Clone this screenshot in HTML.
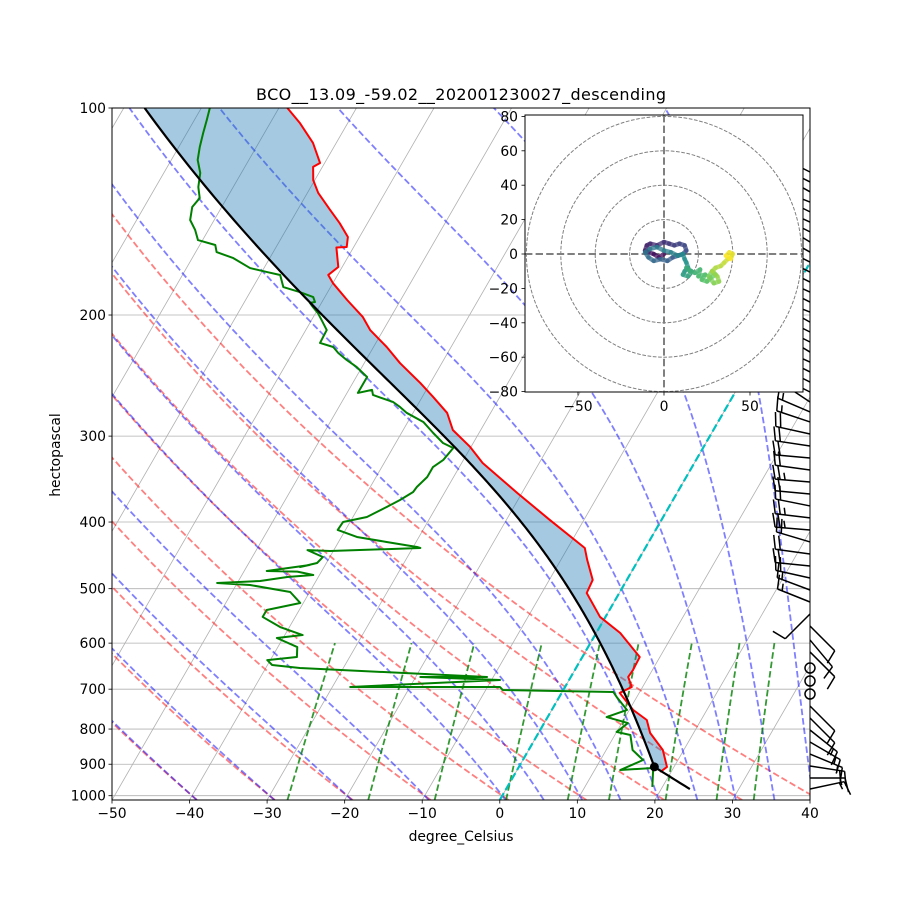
<!DOCTYPE html>
<html><head><meta charset="utf-8"><title>Skew-T</title>
<style>
html,body{margin:0;padding:0;background:#fff;}
svg{display:block;font-family:"DejaVu Sans","Liberation Sans",sans-serif;}
</style></head>
<body>
<svg id="chart" width="900" height="900" viewBox="0 0 900 900" xmlns="http://www.w3.org/2000/svg">
<defs>
<clipPath id="axclip"><rect x="112" y="108" width="698" height="692"/></clipPath>
<clipPath id="hodoclip"><rect x="525" y="115" width="278" height="277"/></clipPath>
</defs>
<rect width="900" height="900" fill="#fff"/>
<g id="grid" clip-path="url(#axclip)"></g>
<g id="series" clip-path="url(#axclip)"></g>
<g id="barbs"></g>
<rect x="112" y="108" width="698" height="692" fill="none" stroke="#000" stroke-width="1"/>
<g id="axes"></g>
<text x="461" y="100" text-anchor="middle" font-size="16" textLength="410">BCO__13.09_-59.02__202001230027_descending</text>
<text x="461" y="841" text-anchor="middle" font-size="13.9">degree_Celsius</text>
<text x="0" y="0" transform="translate(60,455) rotate(-90)" text-anchor="middle" font-size="13.9">hectopascal</text>
<g id="hodo"></g>
</svg>
<script>
// ---- data ----
const tempP = [100,105.1,112.4,120.2,121.8,127.3,132.9,140.7,147.0,154.0,159.3,159.5,170.3,174.9,179.7,190.2,201.4,210.3,222.6,234.9,251.1,263.1,277.6,293.9,311.1,328.2,362.9,397.2,436.3,454.1,485.6,507.3,549.6,580.0,628.6,656.5,672.0,694.9,708.9,750.5,776.1,810.6,858.1,908.3,923.7];
const tempT = [-78.9,-76.2,-73.0,-70.6,-71.2,-70.2,-68.6,-65.8,-63.6,-61.5,-60.9,-62.2,-60.5,-61.2,-60.0,-56.9,-53.6,-51.7,-48.3,-45.4,-41.3,-38.6,-35.6,-33.6,-30.1,-27.3,-20.6,-14.4,-7.8,-6.6,-4.4,-4.2,-0.7,3.1,7.4,7.5,7.4,8.6,7.5,10.5,13.0,14.4,17.3,19.1,18.6];
const dewP = [100,104.1,108.7,113.9,119.0,124.3,130.3,135.2,139.3,145.5,150.5,155.6,158.2,162.0,165.3,170.9,173.2,174.9,182.1,185.2,188.3,191.5,192,194.7,198.7,203.4,210.3,219.6,222.6,227.1,232.5,238.0,246.1,259.6,257.0,261.4,267.6,272.2,277.6,286.1,296.9,307.0,312.2,324.9,332.7,344.0,355.7,361.7,371.5,380.3,386.8,393.3,399.9,410.8,420.5,427.6,434.9,436.3,440.8,439.4,449.7,458.8,465.0,461.8,471.2,472.3,477.6,480.8,487.3,490.6,493.9,505.6,524.5,537.0,549.6,568.5,583.9,589.8,607.9,628.6,635.0,645.6,652.1,672.0,672.0,678.8,694.9,694.9,701.9,706.6,718.5,750.5,768.5,784.1,807.8,816.0,858.1,887.4,917.5,911.4,971.2];
const dewT = [-88.9,-88.4,-87.9,-87.3,-86.6,-85.3,-84.5,-83.5,-83.8,-83.1,-81.7,-80.6,-78.0,-77.3,-74.7,-71.8,-69.3,-67.4,-66.1,-63.6,-61.5,-60.9,-61.5,-60.8,-59.7,-58.7,-57.3,-57.2,-55.2,-54.1,-52.5,-50.7,-48.6,-48.6,-47.0,-46.5,-43.4,-42.1,-40.8,-38.0,-35.9,-33.9,-32.2,-32.6,-33.4,-33.4,-34.0,-34.1,-35.2,-36.4,-37.3,-38.2,-40.9,-41.0,-38.0,-33.8,-29.5,-29.0,-40.4,-43.4,-40.9,-41.2,-43.1,-42.0,-47.1,-43.1,-40.8,-44.0,-47.2,-52.6,-48.2,-42.5,-40.4,-44.2,-44.2,-41.2,-37.7,-40.8,-37.5,-36.8,-40.4,-39.4,-35.6,-10.8,-19.4,-8.9,-27.7,-8.4,-7.8,6.6,7.4,9.7,7.6,10.8,10.0,12.0,13.4,15.5,13.3,17.4,18.7];
const parcelSurfP = 978;
const parcelSurfT = 23.7;
const parcelLclP = 908;
const dryT0 = [-40,-30,-20,-10,0,10,20,30,40];
const moistT0 = [-40,-30,-20,-10,0,5,10,15,20,25,30,35,40];
const mixW = [0.0004,0.001,0.002,0.004,0.007,0.01,0.016,0.024,0.032];
const xTicks = [-50,-40,-30,-20,-10,0,10,20,30,40];
const yTicks = [100,200,300,400,500,600,700,800,900,1000];
const barbP = [123.9,128.1,132.4,137.0,141.6,146.5,151.4,156.6,162.0,167.5,173.2,179.1,185.2,191.5,198.0,204.8,211.7,218.9,226.4,234.1,242.0,250.3,258.8,267.6,276.7,286.1,297.9,310.1,322.8,336.0,349.8,364.1,379.0,394.5,410.8,427.6,445.2,463.4,482.4,502.2,522.8,544.2,566.6,593.6,618.0,652.1,681.1,711.4,740.6,770.9,802.5,835.4,869.7,905.3,942.5,977.9];
const barbU = [10,10,9,10,10,11,10,10,9,10,10,10,11,10,10,9,10,10,10,11,10,10,12,12,14,15,18,20,22,22,24,22,20,25,24,20,22,20,18,16,15,8,-6,-5,-6,0,0,0,-6,-8,-10,-12,-12,-13,-14,-14];
const barbV = [-5,-5,-5,-4,-5,-5,-5,-6,-5,-5,-5,-5,-5,-5,-4,-5,-5,-5,-6,-5,-5,-5,-6,-8,-6,-5,-4,-3,-2,-3,-2,-2,-4,-3,-2,-6,-3,-2,-4,-6,-6,8,6,6,6,0,0,0,6,8,8,7,5,2,0,-3];
const hodoU = [0,-3,-6,-9,-11,-10,-8,-4,0,3,6,9,12,13,11,8,5,2,-2,-6,-9,-11,-8,-4,0,4,8,11,12,13,14,12,11,14,16,13,15,18,21,20,24,22,25,27,30,28,26,29,32,31,28,30,33,35,37,39,40,38,36,39];
const hodoV = [0,-2,0,1,2,5,6,5,7,6,5,6,5,2,0,-1,-2,-4,-3,-4,-2,1,3,4,2,1,-1,0,-3,-5,-8,-10,-12,-13,-10,-8,-10,-11,-9,-13,-12,-15,-16,-14,-12,-10,-13,-17,-16,-13,-10,-8,-7,-5,-3,-2,0,1,-1,-3];
const hodoTicksY = [-80,-60,-40,-20,0,20,40,60,80];
const hodoTicksX = [-50,0,50];
const hodoRings = [20,40,60,80];

// ---- scales ----
const NS='http://www.w3.org/2000/svg';
const X0=112, X1=810, Y0=108, Y1=800, PXC=698/90, PXDEC=692/Math.log10(1014.5/100), SKEW=Math.tan(Math.PI/6);
const PBOT=1014.5;
function yP(p){return Y0+PXDEC*Math.log10(p/100);}
function xT(T,p){return X0+(T+50)*PXC+(Y1-yP(p))*SKEW;}
function mk(tag,attrs,parent){const e=document.createElementNS(NS,tag);for(const k in attrs)e.setAttribute(k,attrs[k]);parent.appendChild(e);return e;}
function pts(arr){return arr.map(a=>a[0].toFixed(2)+','+a[1].toFixed(2)).join(' ');}
const grid=document.getElementById('grid'), series=document.getElementById('series'), axes=document.getElementById('axes'), barbs=document.getElementById('barbs'), hodo=document.getElementById('hodo');

// ---- thermo ----
const Rd=287.04,Cp=1005.7,Lv=2.501e6,eps=0.622;
function es(Tk){const c=Tk-273.15;return 6.112*Math.exp(17.67*c/(c+243.5));}
function dTdp(p,T){const e=es(T);const rs=eps*e/(p-e);return (Rd*T+Lv*rs)/(Cp+Lv*Lv*rs*eps/(Rd*T*T))/p;}
function moistPath(Tc,p0,p1,n){const out=[[p0,Tc]];let T=Tc+273.15,p=p0;const h=(p1-p0)/n;
 for(let i=0;i<n;i++){const k1=dTdp(p,T),k2=dTdp(p+h/2,T+h/2*k1),k3=dTdp(p+h/2,T+h/2*k2),k4=dTdp(p+h,T+h*k3);T+=h/6*(k1+2*k2+2*k3+k4);p+=h;out.push([p,T-273.15]);}return out;}

// ---- grid ----
for(let T=-160;T<=40;T+=10){
 const l=mk('line',{x1:xT(T,PBOT),y1:Y1,x2:xT(T,100),y2:Y0,stroke:'#b0b0b0','stroke-width':0.8},grid);
 
 
}
yTicks.forEach(p=>{const l=mk('line',{x1:X0,x2:X1,y1:yP(p),y2:yP(p),stroke:'#b0b0b0','stroke-width':0.8},grid);
 
 });
dryT0.forEach(t0=>{const a=[];for(let p=PBOT;p>=99;p-=10){a.push([xT((t0+273.15)*Math.pow(p/1000,0.2857)-273.15,p),yP(p)]);}
 const l=mk('polyline',{points:pts(a),fill:'none',stroke:'rgba(255,0,0,0.5)','stroke-width':1.8,'stroke-dasharray':'6.5 3'},grid);
 
 });
moistT0.forEach(t0=>{const up=moistPath(t0,1000,100,180),dn=moistPath(t0,1000,PBOT,4);
 const a=dn.reverse().concat(up.slice(1)).map(q=>[xT(q[1],q[0]),yP(q[0])]);
 const l=mk('polyline',{points:pts(a),fill:'none',stroke:'rgba(0,0,255,0.5)','stroke-width':1.8,'stroke-dasharray':'6.5 3'},grid);
 
 });
mixW.forEach(w=>{const a=[];for(let p=PBOT;p>=600;p-=20){const e=p*w/(eps+w),lg=Math.log(e/6.112);const td=243.5*lg/(17.67-lg);a.push([xT(td,p),yP(p)]);}
 const p=600,e=p*w/(eps+w),lg=Math.log(e/6.112);a.push([xT(243.5*lg/(17.67-lg),p),yP(p)]);
 const l=mk('polyline',{points:pts(a),fill:'none',stroke:'rgba(0,128,0,0.8)','stroke-width':1.8,'stroke-dasharray':'6.5 3'},grid);
 
 });

// ---- parcel ----
const lclT=(parcelSurfT+273.15)*Math.pow(parcelLclP/parcelSurfP,0.2857)-273.15;
const moistPar=moistPath(lclT,parcelLclP,100,300);
function parcelT(p){if(p>=parcelLclP)return (parcelSurfT+273.15)*Math.pow(p/parcelSurfP,0.2857)-273.15;
 for(let i=1;i<moistPar.length;i++){const a=moistPar[i-1],b=moistPar[i];if(p<=a[0]&&p>=b[0]){const f=(p-a[0])/(b[0]-a[0]);return a[1]+f*(b[1]-a[1]);}}return moistPar[moistPar.length-1][1];}

{const top=[],bot=[];tempP.forEach((p,i)=>{top.push([xT(tempT[i],p),yP(p)]);bot.push([xT(Math.min(tempT[i],parcelT(p)),p),yP(p)]);});
 const f=mk('polygon',{points:pts(top.concat(bot.reverse())),fill:'rgba(31,119,180,0.4)',stroke:'none'},series);
 
 }
{const l=mk('line',{x1:xT(0,PBOT),y1:Y1,x2:xT(0,100),y2:Y0,stroke:'#00bfbf','stroke-width':2.2,'stroke-dasharray':'8 3.5'},series);
 
 }
{const l=mk('polyline',{points:pts(tempP.map((p,i)=>[xT(tempT[i],p),yP(p)])),fill:'none',stroke:'#ff0000','stroke-width':2,'stroke-linejoin':'round'},series);
 
 }
{const l=mk('polyline',{points:pts(dewP.map((p,i)=>[xT(dewT[i],p),yP(p)])),fill:'none',stroke:'#008000','stroke-width':2,'stroke-linejoin':'round'},series);
 
 }
{const a=[];for(let p=parcelSurfP;p>parcelLclP;p-=5)a.push([xT(parcelT(p),p),yP(p)]);
 moistPar.forEach(q=>a.push([xT(q[1],q[0]),yP(q[0])]));
 const l=mk('polyline',{points:pts(a),fill:'none',stroke:'#000','stroke-width':2.2},series);
 
 
 const c=mk('circle',{cx:xT(lclT,parcelLclP),cy:yP(parcelLclP),r:4.5,fill:'#000'},series);
 
 }

// ---- axes ticks ----
xTicks.forEach(t=>{const x=X0+(t+50)*PXC;mk('line',{x1:x,x2:x,y1:Y1,y2:Y1+3.5,stroke:'#000','stroke-width':0.8},axes);
 const tx=mk('text',{x:x,y:Y1+18,'text-anchor':'middle','font-size':13.9},axes);tx.textContent=String(t).replace('-','\u2212');
 
 });
yTicks.forEach(p=>{const y=yP(p);mk('line',{x1:X0-3.5,x2:X0,y1:y,y2:y,stroke:'#000','stroke-width':0.8},axes);
 const tx=mk('text',{x:X0-6,y:y+5,'text-anchor':'end','font-size':13.9},axes);tx.textContent=p;
 
 });

// ---- wind barbs ----
barbP.forEach((p,i)=>{const ox=X1,oy=yP(p),u=barbU[i],v=barbV[i],s=Math.hypot(u,v);
 const g=mk('g',{},barbs);
 
 
 if(s<2.5){mk('circle',{cx:ox,cy:oy,r:5,fill:'none',stroke:'#000','stroke-width':1.5},g);return;}
 const d=[-u/s,v/s],L=35,pp=[-d[1],d[0]];const ex=ox+d[0]*L,ey=oy+d[1]*L;
 mk('line',{x1:ox,y1:oy,x2:ex,y2:ey,stroke:'#000','stroke-width':1.5},g);
 let r=Math.round(s/5)*5;const fl=Math.floor(r/50);r-=fl*50;const fu=Math.floor(r/10);const hf=(r-fu*10)>=5;let t=0;
 for(let k=0;k<fl;k++){const px=ex-d[0]*t,py=ey-d[1]*t;mk('polygon',{points:pts([[px,py],[px-d[0]*7,py-d[1]*7],[px+pp[0]*14-d[0]*3.5,py+pp[1]*14-d[1]*3.5]]),fill:'#000'},g);t+=8;}
 for(let k=0;k<fu;k++){const px=ex-d[0]*t,py=ey-d[1]*t;mk('line',{x1:px,y1:py,x2:px+pp[0]*14+d[0]*3.5,y2:py+pp[1]*14+d[1]*3.5,stroke:'#000','stroke-width':1.5},g);t+=5;}
 if(hf){if(t===0)t=5;const px=ex-d[0]*t,py=ey-d[1]*t;mk('line',{x1:px,y1:py,x2:px+pp[0]*7+d[0]*1.75,y2:py+pp[1]*7+d[1]*1.75,stroke:'#000','stroke-width':1.5},g);}
});

// ---- hodograph ----
const HX0=664,HY0=254,HS=1.72;
function hx(u){return HX0+u*HS;} function hy(v){return HY0-v*HS;}
{const bg=mk('rect',{x:525,y:115,width:278,height:277,fill:'#fff'},hodo);
 
 }
const hg=mk('g',{'clip-path':'url(#hodoclip)'},hodo);
hodoRings.forEach(r=>{const c=mk('circle',{cx:HX0,cy:HY0,r:r*HS,fill:'none',stroke:'#808080','stroke-width':1,'stroke-dasharray':'3.7 1.6'},hg);
 
 });
mk('line',{x1:525,x2:803,y1:HY0,y2:HY0,stroke:'#808080','stroke-width':2,'stroke-dasharray':'7.4 3.2'},hg);
mk('line',{x1:HX0,x2:HX0,y1:115,y2:392,stroke:'#808080','stroke-width':2,'stroke-dasharray':'7.4 3.2'},hg);
const vir=[[68,1,84],[59,82,139],[33,145,140],[94,201,98],[253,231,37]];
function vc(f){const s=f*(vir.length-1),i=Math.min(Math.floor(s),vir.length-2),t=s-i;const c=vir[i].map((a,k)=>Math.round(a+(vir[i+1][k]-a)*t));return 'rgb('+c.join(',')+')';}
for(let i=1;i<hodoU.length;i++){const l=mk('line',{x1:hx(hodoU[i-1]),y1:hy(hodoV[i-1]),x2:hx(hodoU[i]),y2:hy(hodoV[i]),stroke:vc(i/(hodoU.length-1)),'stroke-width':4.5,'stroke-linecap':'round','stroke-opacity':0.75},hg);
 
 }
{const fr=mk('rect',{x:525,y:115,width:278,height:277,fill:'none',stroke:'#000','stroke-width':1},hodo);
 
 }
hodoTicksY.forEach(v=>{const y=hy(v);mk('line',{x1:521.5,x2:525,y1:y,y2:y,stroke:'#000','stroke-width':0.8},hodo);
 const tx=mk('text',{x:518,y:y+5,'text-anchor':'end','font-size':13.9},hodo);tx.textContent=String(v).replace('-','\u2212');
 
 });
hodoTicksX.forEach(u=>{const x=hx(u);mk('line',{x1:x,x2:x,y1:392,y2:395.5,stroke:'#000','stroke-width':0.8},hodo);
 const tx=mk('text',{x:x,y:411,'text-anchor':'middle','font-size':13.9},hodo);tx.textContent=String(u).replace('-','\u2212');
 
 });
</script>
</body></html>
